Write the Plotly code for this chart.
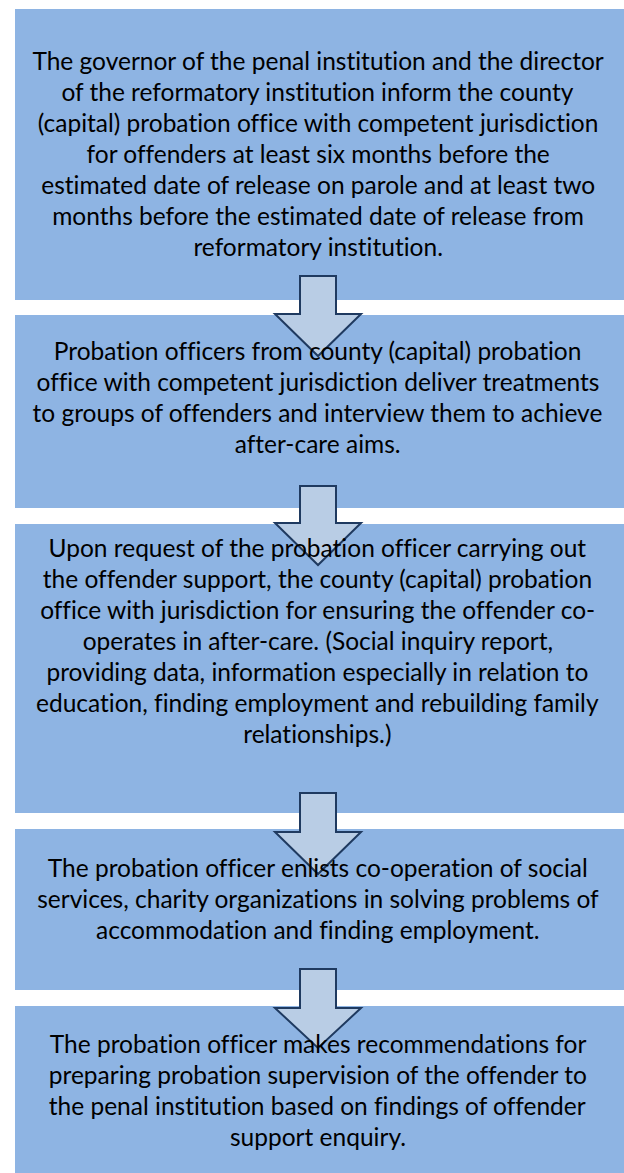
import plotly.graph_objects as go

# ---- content ----
box_texts = [
    ["The governor of the penal institution and the director",
     "of the reformatory institution inform the county",
     "(capital) probation office with competent jurisdiction",
     "for offenders at least six months before the",
     "estimated date of release on parole and at least two",
     "months before the estimated date of release from",
     "reformatory institution."],
    ["Probation officers from county (capital) probation",
     "office with competent jurisdiction deliver treatments",
     "to groups of offenders and interview them to achieve",
     "after-care aims."],
    ["Upon request of the probation officer carrying out",
     "the offender support, the county (capital) probation",
     "office with jurisdiction for ensuring the offender co-",
     "operates in after-care. (Social inquiry report,",
     "providing data, information especially in relation to",
     "education, finding employment and rebuilding family",
     "relationships.)"],
    ["The probation officer enlists co-operation of social",
     "services, charity organizations in solving problems of",
     "accommodation and finding employment."],
    ["The probation officer makes recommendations for",
     "preparing probation supervision of the offender to",
     "the penal institution based on findings of offender",
     "support enquiry."],
]

# ---- layout geometry (pixels) ----
W, H = 624, 1173
box_x0, box_x1 = 15, 624
box_top = [9, 315, 524, 829, 1006]
box_bot = [300, 508, 813, 990, 1173]
text_center = [153, 397, 640, 898, 1090]
line_gap = 31
arrow_cx = 318
arrow_shaft_half = 18
arrow_head_half = 43
arrow_shaft_top = [276, 486, 793, 969]
arrow_head_top = [314, 523, 832, 1008]
arrow_tip = [356, 565, 874, 1048]

BOX_COLOR = "#8EB4E3"
ARROW_FILL = "#B9CDE5"
ARROW_LINE = "#1F3A60"
FONT = "Lato"
FONT_SIZE = 24.5

fig = go.Figure()
shapes = []
annotations = []
for i, lines in enumerate(box_texts):
    shapes.append(dict(type="rect", xref="x", yref="y",
                       x0=box_x0, x1=box_x1, y0=box_top[i], y1=box_bot[i],
                       fillcolor=BOX_COLOR, line=dict(width=0), layer="below"))
    n = len(lines)
    for j, ln in enumerate(lines):
        y = text_center[i] + (j - (n - 1) / 2) * line_gap
        annotations.append(dict(x=(box_x0 + box_x1) / 2 - 2, y=y, xref="x", yref="y",
                                text=ln, showarrow=False, xanchor="center", yanchor="middle",
                                font=dict(family=FONT, size=FONT_SIZE, color="#000000")))

for k in range(len(arrow_tip)):
    sx0, sx1 = arrow_cx - arrow_shaft_half, arrow_cx + arrow_shaft_half
    hx0, hx1 = arrow_cx - arrow_head_half, arrow_cx + arrow_head_half
    path = (f"M {sx0} {arrow_shaft_top[k]} L {sx1} {arrow_shaft_top[k]} "
            f"L {sx1} {arrow_head_top[k]} L {hx1} {arrow_head_top[k]} "
            f"L {arrow_cx} {arrow_tip[k]} L {hx0} {arrow_head_top[k]} "
            f"L {sx0} {arrow_head_top[k]} Z")
    shapes.append(dict(type="path", xref="x", yref="y", path=path,
                       fillcolor=ARROW_FILL, line=dict(color=ARROW_LINE, width=2),
                       layer="above"))

fig.update_layout(
    width=W, height=H,
    margin=dict(l=0, r=0, t=0, b=0),
    paper_bgcolor="white", plot_bgcolor="white",
    xaxis=dict(range=[0, W], visible=False, fixedrange=True),
    yaxis=dict(range=[H, 0], visible=False, fixedrange=True),
    shapes=shapes, annotations=annotations,
    showlegend=False,
)
post = (
    "document.body.style.margin='0';document.body.style.overflow='hidden';"
    "var s=document.createElement('style');"
    "s.textContent='svg text{font-variant-ligatures:none;font-feature-settings:\"liga\" 0, \"clig\" 0;}';"
    "document.head.appendChild(s);"
)
fig.write_html("out.html", config={"displayModeBar": False}, post_script=post)
